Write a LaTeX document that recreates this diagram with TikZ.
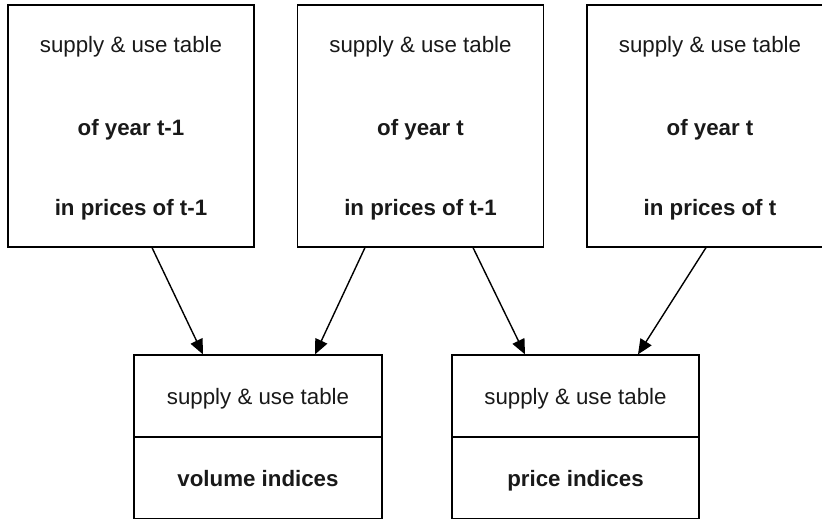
\documentclass[tikz,border=0pt]{standalone}
\usepackage{fontspec}
\setmainfont{Liberation Sans}
\usetikzlibrary{arrows.meta}
\begin{document}
\begin{tikzpicture}[x=1pt,y=-1pt,
  topbox/.style={draw=black, line width=1.2pt, minimum width=246pt, minimum height=242pt, inner sep=0pt},
  halfbox/.style={draw=black, line width=1.2pt, minimum width=247pt, minimum height=82pt, inner sep=0pt},
  plain/.style={font=\fontsize{22.3pt}{26pt}\selectfont, text=black!90, inner sep=0pt, anchor=base},
  strong/.style={font=\fontsize{22.3pt}{26pt}\selectfont\bfseries, text=black!90, inner sep=0pt, anchor=base},
  arr/.style={line width=1.4pt, -{Triangle[length=15pt,width=13pt]}}]
\useasboundingbox (0,0) rectangle (822,519);
\clip (0,0) rectangle (822,519);
% top boxes
\node[topbox] (a) at (131,126) {};
\node[topbox] (b) at (420.5,126) {};
\node[topbox, minimum width=270pt] (c) at (722,126) {};
\node[plain]  (a1) at (131,53) {supply \& use table};
\node[strong] (a2) at (131,135) {of year t-1};
\node[strong] (a3) at (131,215) {in prices of t-1};
\node[plain]  (b1) at (420.5,53) {supply \& use table};
\node[strong] (b2) at (420.5,135) {of year t};
\node[strong] (b3) at (420.5,215) {in prices of t-1};
\node[plain]  (c1) at (710,53) {supply \& use table};
\node[strong] (c2) at (710,135) {of year t};
\node[strong] (c3) at (710,215) {in prices of t};
% bottom boxes
\node[halfbox, minimum width=248pt] (v) at (258,396) {};
\node[halfbox, minimum width=248pt] (vb) at (258,477.5) {};
\node[halfbox] (p) at (575.5,396) {};
\node[halfbox] (pb) at (575.5,477.5) {};
\node[plain]  (v1) at (258,404) {supply \& use table};
\node[strong] (v2) at (258,486) {volume indices};
\node[plain]  (p1) at (575.5,404) {supply \& use table};
\node[strong] (p2) at (575.5,486) {price indices};
% arrows
\draw[arr] ([xshift=21pt]a.south) -- ([xshift=-55pt]v.north);
\draw[arr] ([xshift=-55.5pt]b.south) -- ([xshift=57pt]v.north);
\draw[arr] ([xshift=52.5pt]b.south) -- ([xshift=-50.5pt]p.north);
\draw[arr] ([xshift=-16pt]c.south) -- ([xshift=62.5pt]p.north);
\end{tikzpicture}
\end{document}
